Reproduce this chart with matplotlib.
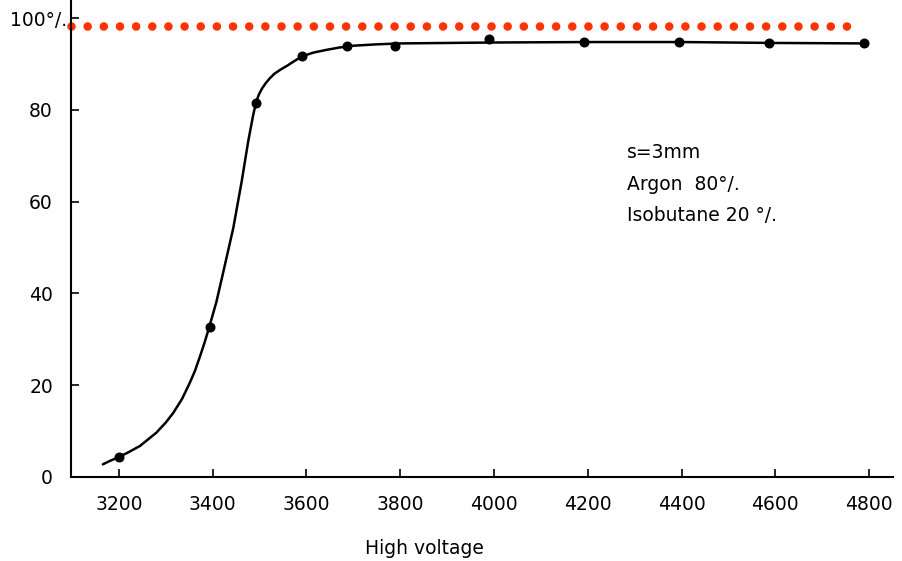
import matplotlib
matplotlib.use("Agg")
import matplotlib.pyplot as plt
from matplotlib.transforms import ScaledTranslation

# Measured efficiency points (high voltage in V, efficiency in %)
voltage = [3200, 3394, 3492, 3590, 3686, 3790, 3990, 4192, 4394, 4587, 4790]
efficiency = [4.2, 32.7, 81.4, 91.8, 94.0, 94.0, 95.4, 94.8, 94.8, 94.7, 94.5]

# Hand-drawn trend curve through the measurements
curve_v = [3166, 3180, 3198, 3220, 3245, 3280, 3300, 3316, 3335, 3351, 3362,
           3373, 3383, 3393, 3408, 3422, 3444, 3462, 3476, 3486, 3492, 3498,
           3505, 3513, 3522, 3532, 3545, 3560, 3575, 3591, 3615, 3643, 3670,
           3700, 3750, 3800, 3900, 4000, 4200, 4400, 4600, 4790]
curve_eff = [2.7, 3.4, 4.2, 5.3, 6.7, 9.6, 11.8, 13.9, 17.0, 20.4, 23.0,
             26.2, 29.3, 32.7, 38.1, 44.3, 54.2, 64.4, 73.2, 78.6, 81.4, 83.2,
             84.6, 85.8, 86.9, 87.9, 88.8, 89.7, 90.7, 91.7, 92.5, 93.1, 93.6,
             94.0, 94.3, 94.5, 94.6, 94.7, 94.8, 94.8, 94.6, 94.5]

# Full-efficiency reference level
ref_v = [3098, 4762]
ref_eff = [98.3, 98.3]

x_ticks = [3200, 3400, 3600, 3800, 4000, 4200, 4400, 4600, 4800]
y_ticks = [0, 20, 40, 60, 80, 100]
y_tick_labels = ["0", "20", "40", "60", "80", "100°/."]

annotation = ["s=3mm", "Argon  80°/.", "Isobutane 20 °/."]

fig = plt.figure(figsize=(9.03, 5.61), dpi=100)
ax = fig.add_axes([71 / 903, 1 - 476.7 / 561, (893 - 71) / 903, 476.7 / 561])

ax.plot(ref_v, ref_eff, color="#ff3300", linewidth=6.2,
        linestyle=(0, (0.001, 1.875)), dash_capstyle="round", clip_on=False)
ax.plot(curve_v, curve_eff, color="black", linewidth=1.8,
        solid_joinstyle="round", solid_capstyle="round")
ax.plot(voltage, efficiency, "o", color="black", markersize=6.2)

ax.set_xlim(3098, 4851)
ax.set_ylim(0, 103.97)
ax.set_xticks(x_ticks)
ax.set_xticklabels([str(v) for v in x_ticks])
ax.set_yticks(y_ticks)
ax.set_yticklabels(y_tick_labels)

for side in ("top", "right"):
    ax.spines[side].set_visible(False)
for side in ("left", "bottom"):
    ax.spines[side].set_linewidth(1.5)

ax.tick_params(axis="both", direction="in", length=6, width=1.2,
               labelsize=13.5, pad=13)

# The percent label sits closer to the axis than the plain numbers
top_label = ax.get_yticklabels()[-1]
top_label.set_transform(top_label.get_transform()
                        + ScaledTranslation(14 / 100, 0, fig.dpi_scale_trans))

fig.text(424 / 903, 1 - 549 / 561, "High voltage", ha="center", va="center",
         fontsize=13.5)

for i, line in enumerate(annotation):
    fig.text(627 / 903, 1 - (153 + 31 * i) / 561, line, ha="left",
             va="center", fontsize=13.5)

fig.savefig("out.png", dpi=100)
